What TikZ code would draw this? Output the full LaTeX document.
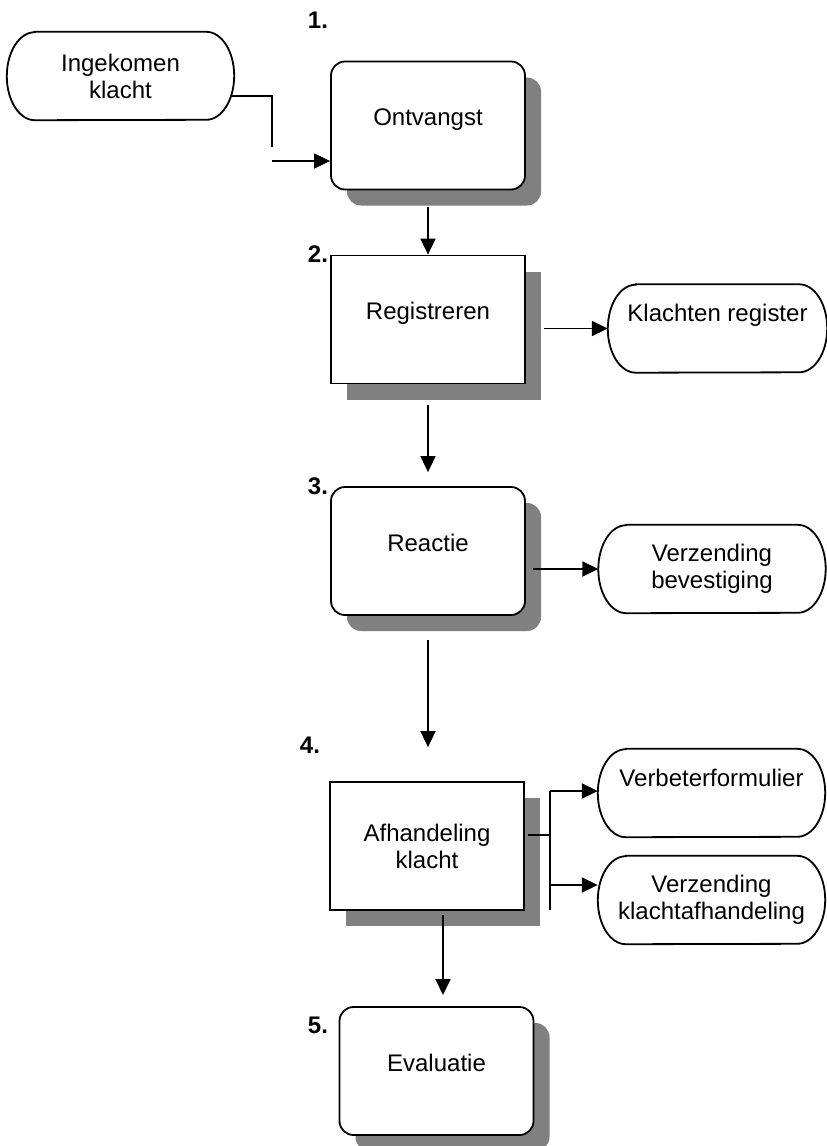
\documentclass[tikz,border=0pt]{standalone}
\usepackage{fontspec}
\setmainfont{Liberation Sans}
\usetikzlibrary{arrows.meta,shadows}
\definecolor{shadowgray}{HTML}{808080}

\newcommand{\termframe}[1]{%
  \draw[wire] ([xshift=28pt]#1.north west) -- ([xshift=-28pt]#1.north east)
    arc[start angle=90,end angle=-90,x radius=28pt,y radius=44pt]
    -- ([xshift=28pt]#1.south west)
    arc[start angle=270,end angle=90,x radius=28pt,y radius=44pt] -- cycle;}

\begin{document}
\begin{tikzpicture}[x=1pt,y=-1pt,
        every node/.style={font=\fontsize{24pt}{27pt}\selectfont},
        wire/.style={line width=1.8pt},
        flow/.style={wire,-{Triangle[length=16pt,width=15pt]}},
        boxshadow/.style={drop shadow={shadow xshift=16pt,shadow yshift=-16pt,opacity=1,fill=shadowgray}},
        proc/.style={wire,draw,fill=white,boxshadow,minimum width=194pt,minimum height=128pt,align=center},
        roundproc/.style={proc,rounded corners=14pt},
        lifted/.style={text height=18pt,text depth=18pt},
        high/.style={text height=18pt,text depth=32pt},
        terminal/.style={minimum width=227pt,minimum height=88pt,align=center},
        num/.style={font=\fontsize{24pt}{27pt}\selectfont\bfseries}]
        \useasboundingbox (0,0) rectangle (827,1146);
        % steps
        \node[terminal](ingek) at (120.5,76) {Ingekomen\\klacht};
        \node[num](num1) at (318,20) {1.};
        \node[roundproc,lifted](ontv) at (428,125.5) {Ontvangst};
        \node[num](num2) at (318,254) {2.};
        \node[proc,lifted](reg) at (428,319.5) {Registreren};
        \node[terminal,high,minimum width=219pt](klreg) at (717.5,328.5) {Klachten register};
        \node[num](num3) at (318,486) {3.};
        \node[roundproc,lifted](react) at (428,551) {Reactie};
        \node[terminal](verzb) at (712,569) {Verzending\\bevestiging};
        \node[num](num4) at (310,745) {4.};
        \node[proc](afh) at (427,846) {Afhandeling\\klacht};
        \node[terminal,high](verb) at (711.5,793) {Verbeterformulier};
        \node[terminal](verzk) at (711.5,900) {Verzending\\klachtafhandeling};
        \node[num](num5) at (318,1025) {5.};
        \node[roundproc,lifted](eval) at (436.5,1071) {Evaluatie};
        \foreach \t in {ingek,klreg,verzb,verb,verzk}
            \termframe{\t};
        % connectors
        \coordinate(k1) at (272,96);
        \coordinate(k2) at (272,147);
        \coordinate(k3) at (272,161);
        \draw[wire] ([xshift=-3pt]ingek.east |- k1) -- (k1) -- (k2);
        \draw[flow] (k3) -- (k3 -| ontv.west);
        \draw[flow] ([yshift=-17pt]ontv.south) -- (reg.north);
        \draw[flow] ([xshift=18pt]reg.east |- klreg) -- (klreg.west);
        \draw[flow] ([yshift=-21pt]reg.south) -- ([yshift=14pt]react.north);
        \draw[flow] ([xshift=7pt]react.east |- verzb) -- (verzb.west);
        \draw[flow] ([yshift=-24pt]react.south) -- ([yshift=34pt]afh.north -| react.south);
        \coordinate(fork) at (550,835);
        \coordinate(forkt) at (550,791);
        \coordinate(forkm) at (550,885);
        \coordinate(forkb) at (550,910);
        \draw[wire] ([xshift=3pt]afh.east |- fork) -- (fork);
        \draw[wire] (forkt) -- (forkb);
        \draw[flow] (forkt) -- (forkt -| verb.west);
        \draw[flow] (forkm) -- (forkm -| verzk.west);
        \coordinate(e1) at (443,915);
        \coordinate(e2) at (443,995);
        \draw[flow] (e1) -- (e2);
\end{tikzpicture}
\end{document}
